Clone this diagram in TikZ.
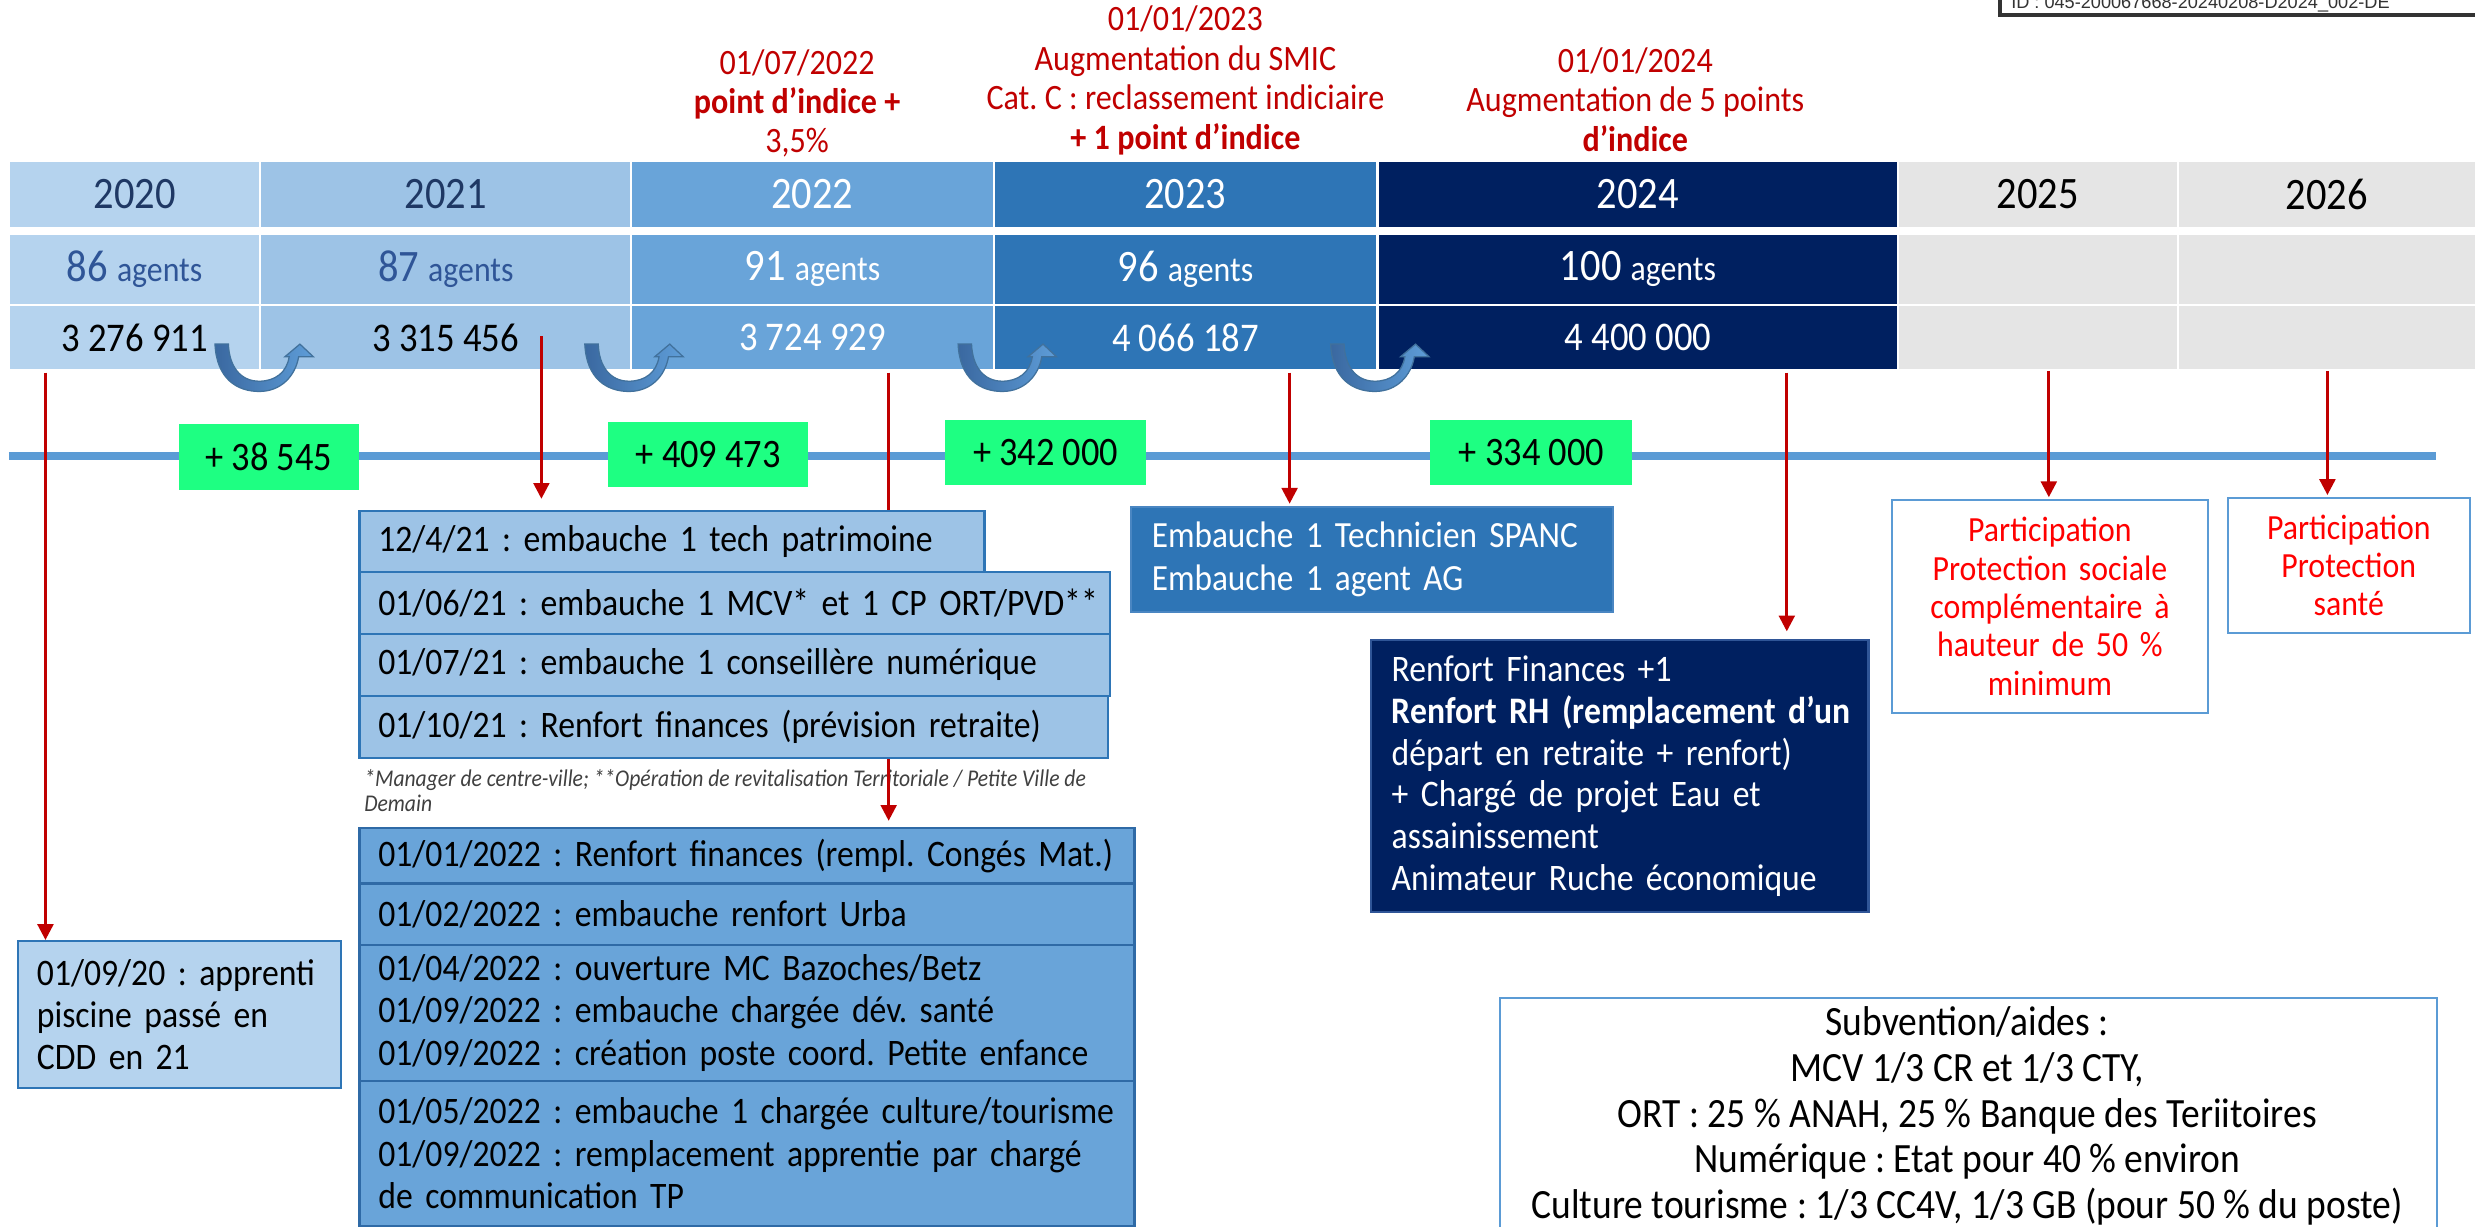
\documentclass[tikz,border=0pt]{standalone}
\usepackage{fontspec}
\setmainfont{Carlito}[FakeStretch=0.9]
\newfontfamily\idfont{Liberation Sans}
\usetikzlibrary{arrows.meta}
\newcommand\myfs[2]{\fontsize{#1}{#2}\selectfont}
\newcommand\Lx[1]{\mbox{#1}}
\definecolor{c20}{HTML}{B5D3EE}
\definecolor{c21}{HTML}{9DC3E6}
\definecolor{c22}{HTML}{69A4D9}
\definecolor{c23}{HTML}{2E75B6}
\definecolor{c24}{HTML}{002060}
\definecolor{c25}{HTML}{E5E5E5}
\definecolor{navytxt}{HTML}{1F3864}
\definecolor{agtxt}{HTML}{2F5597}
\definecolor{lineblue}{HTML}{5B9BD5}
\definecolor{gr}{HTML}{1EFF82}
\definecolor{hred}{HTML}{C00000}
\definecolor{pred}{HTML}{FF0000}
\definecolor{bord}{HTML}{2E75B6}
\definecolor{bord2}{HTML}{2F6AA6}
\definecolor{bord3}{HTML}{4A86C2}
\definecolor{uaL}{HTML}{3A68A0}
\definecolor{uaR}{HTML}{5E9DD8}
\definecolor{uaD}{HTML}{41719C}
\definecolor{idgray}{HTML}{333333}
\definecolor{fng}{HTML}{404040}
\pgfdeclarelayer{bg}
\pgfdeclarelayer{arr}
\pgfsetlayers{bg,arr,main}
\frenchspacing
\begin{document}
\begin{tikzpicture}[x=1pt,y=-1pt,
 cell/.style={anchor=north west, inner sep=0pt, outer sep=0pt},
 yr/.style={cell, minimum height=41.2pt, font=\myfs{28.5}{30}},
 ag/.style={cell, minimum height=43.4pt, font=\myfs{28.5}{30}},
 mt/.style={cell, minimum height=40pt, font=\myfs{25.8}{28}},
 gbox/.style={anchor=north west, fill=gr, inner sep=0pt, font=\myfs{25.6}{28}},
 hdr/.style={text=hred, align=center, inner sep=0pt, font=\myfs{22.6}{25}},
 lbox/.style={anchor=north west, draw=bord, line width=1.4pt, inner xsep=12pt, inner ysep=0pt, align=left, font=\myfs{23.7}{26.8}},
 pbox/.style={anchor=north west, draw=lineblue, line width=1.4pt, fill=white, inner xsep=10pt, inner ysep=0pt, align=center, text=pred, font=\myfs{22.4}{24.3}},
 redarr/.style={draw=hred, line width=1.8pt, -{Triangle[width=10pt,length=10pt]}},
 pics/uarrow/.style={code={
   \shadedraw[left color=uaL, right color=uaR, draw=uaD, line width=0.8pt]
   (0,0) .. controls (1,22) and (14,30) .. (28,30) .. controls (42,30) and (51,20) .. (53,8)
   -- (62.3,8) -- (53.8,0) -- (44.3,8) -- (47,8)
   .. controls (45.5,18) and (38,23.5) .. (28,23.5) .. controls (16,23.5) and (9,14) .. (8.5,0) -- cycle;
 }}
]
\useasboundingbox (0,0) rectangle (1568,777);
\clip (0,0) rectangle (1568,777);

\begin{pgfonlayer}{bg}
% row 1 : years
\node[yr, fill=c20, minimum width=158.3pt, text=navytxt] (y20) at (6.1,102.4) {2020};
\node[yr, fill=c21, minimum width=233.6pt, text=navytxt] (y21) at (165.6,102.4) {2021};
\node[yr, fill=c22, minimum width=228.6pt, text=white] (y22) at (400.4,102.4) {2022};
\node[yr, fill=c23, minimum width=241.4pt, text=white] (y23) at (630.3,102.4) {2023};
\node[yr, fill=c24, minimum width=328.2pt, text=white] (y24) at (873.6,102.4) {2024};
\node[yr, fill=c25, minimum width=176pt, text=black] (y25) at (1203,102.4) {2025};
\node[yr, fill=c25, minimum width=187.6pt, text=black] (y26) at (1380.4,102.4) {2026};
% row 2 : agents
\node[ag, fill=c20, minimum width=158.3pt, text=agtxt] (n20) at (6.1,148.9) {86 {\myfs{22.4}{24}agents}};
\node[ag, fill=c21, minimum width=233.6pt, text=agtxt] (n21) at (165.6,148.9) {87 {\myfs{22.4}{24}agents}};
\node[ag, fill=c22, minimum width=228.6pt, text=white] (n22) at (400.4,148.9) {91 {\myfs{22.4}{24}agents}};
\node[ag, fill=c23, minimum width=241.4pt, text=white] (n23) at (630.3,148.9) {96 {\myfs{22.4}{24}agents}};
\node[ag, fill=c24, minimum width=328.2pt, text=white] (n24) at (873.6,148.9) {100 {\myfs{22.4}{24}agents}};
\node[ag, fill=c25, minimum width=176pt] (n25) at (1203,148.9) {};
\node[ag, fill=c25, minimum width=187.6pt] (n26) at (1380.4,148.9) {};
% row 3 : amounts
\node[mt, fill=c20, minimum width=158.3pt, text=black] (m20) at (6.1,194) {3 276 911};
\node[mt, fill=c21, minimum width=233.6pt, text=black] (m21) at (165.6,194) {3 315 456};
\node[mt, fill=c22, minimum width=228.6pt, text=white] (m22) at (400.4,194) {3 724 929};
\node[mt, fill=c23, minimum width=241.4pt, text=white] (m23) at (630.3,194) {4 066 187};
\node[mt, fill=c24, minimum width=328.2pt, text=white] (m24) at (873.6,194) {4 400 000};
\node[mt, fill=c25, minimum width=176pt] (m25) at (1203,194) {};
\node[mt, fill=c25, minimum width=187.6pt] (m26) at (1380.4,194) {};
% timeline
\coordinate (tlA) at (5.6,289);
\coordinate (tlB) at (1543,289);
\draw[lineblue, line width=4.7pt] (tlA) -- (tlB);
% footnote
\node[anchor=north west, inner sep=0pt, align=left, text=fng, font=\itshape\myfs{15.2}{15.5}] (fn) at (230.6,487.5)
 {\Lx{*Manager de centre-ville; **Opération de revitalisation Territoriale / Petite Ville de}\\Demain};
\end{pgfonlayer}

% curved arrows
\pic (ua1) at (136.2,218) {uarrow};
\pic (ua2) at (370.5,218) {uarrow};
\pic (ua3) at (607,218) {uarrow};
\pic (ua4) at (843,218) {uarrow};

% differences
\node[gbox, minimum width=114pt, minimum height=41.5pt] (g1) at (113,268.5) {+ 38 545};
\node[gbox, minimum width=127pt, minimum height=41.5pt] (g2) at (385,267) {+ 409 473};
\node[gbox, minimum width=127.5pt, minimum height=41pt] (g3) at (598.5,266) {+ 342 000};
\node[gbox, minimum width=128pt, minimum height=41pt] (g4) at (906,266) {+ 334 000};

% headers
\node[hdr] (h22) at (505,65.5) {01/07/2022\\\textbf{point d’indice +}\\3,5\%};
\node[hdr] (h23) at (751,51) {01/01/2023\\Augmentation du SMIC\\Cat. C : reclassement indiciaire\\\textbf{+ 1 point d’indice}};
\node[hdr] (h24) at (1036,63) {01/01/2024\\Augmentation de 5 points\\\textbf{d’indice}};

% 2020 box
\node[lbox, fill=c20, text width=180.8pt, minimum height=93.1pt] (b20) at (10.7,595.5)
 {\Lx{01/09/20 : apprenti}\\\Lx{piscine passé en}\\\Lx{CDD en 21}};

% 2021 list
\node[lbox, fill=c21, text width=372pt, minimum height=38.5pt] (l21a) at (227,323) {\Lx{12/4/21 : embauche 1 tech patrimoine}};
\node[lbox, fill=c21, text width=451.5pt, minimum height=39.5pt] (l21b) at (227,361.5) {\Lx{01/06/21 : embauche 1 MCV* et 1 CP ORT/PVD**}};
\node[lbox, fill=c21, text width=451.5pt, minimum height=39pt] (l21c) at (227,401) {\Lx{01/07/21 : embauche 1 conseillère numérique}};
\node[lbox, fill=c21, text width=450pt, minimum height=39.4pt] (l21d) at (227,440) {\Lx{01/10/21 : Renfort finances (prévision retraite)}};

% 2022 list
\node[lbox, draw=bord2, fill=c22, text width=467pt, minimum height=35pt] (l22a) at (227,524) {\Lx{01/01/2022 : Renfort finances (rempl. Congés Mat.)}};
\node[lbox, draw=bord2, fill=c22, text width=467pt, minimum height=39pt] (l22b) at (227,559) {\Lx{01/02/2022 : embauche renfort Urba}};
\node[lbox, draw=bord2, fill=c22, text width=467pt, minimum height=86pt] (l22c) at (227,598)
 {\Lx{01/04/2022 : ouverture MC Bazoches/Betz}\\\Lx{01/09/2022 : embauche chargée dév. santé}\\\Lx{01/09/2022 : création poste coord. Petite enfance}};
\node[lbox, draw=bord2, fill=c22, text width=467pt, minimum height=92pt] (l22d) at (227,684)
 {\Lx{01/05/2022 : embauche 1 chargée culture/tourisme}\\\Lx{01/09/2022 : remplacement apprentie par chargé}\\\Lx{de communication TP}};

% 2023 box
\node[lbox, draw=bord3, fill=c23, text=white, inner xsep=13pt, text width=279pt, minimum height=66.2pt, font=\myfs{23.4}{26.7}] (spanc) at (716,320.6)
 {\Lx{Embauche 1 Technicien SPANC}\\\Lx{Embauche 1 agent AG}};

% 2024 box
\node[lbox, draw=agtxt, fill=c24, text=white, inner xsep=13pt, text width=289pt, minimum height=172pt, font=\myfs{23.7}{26.5}] (renf) at (868,405)
 {\Lx{Renfort Finances +1}\\\Lx{\textbf{Renfort RH (remplacement d’un}}\\\Lx{départ en retraite + renfort)}\\\Lx{+ Chargé de projet Eau et}\\\Lx{assainissement}\\\Lx{Animateur Ruche économique}};

% 2025 / 2026 boxes
\node[pbox, text width=180pt, minimum height=135pt] (ps) at (1198,316)
 {Participation\\Protection sociale\\complémentaire à\\hauteur de 50 \%\\minimum};
\node[pbox, text width=133.4pt, minimum height=85.8pt] (psa) at (1410.6,314.6)
 {Participation\\Protection\\santé};

% subventions
\node[anchor=north west, draw=lineblue, line width=1.4pt, fill=white, minimum width=593.4pt, minimum height=200pt, inner sep=0pt] (sub) at (949.6,631.4) {};
\node[align=center, inner sep=0pt, font=\myfs{26.4}{29}] (subt) at (1246.3,707)
 {Subvention/aides :\\MCV 1/3 CR et 1/3 CTY,\\ORT : 25 \% ANAH, 25 \% Banque des Teriitoires\\Numérique : Etat pour 40 \% environ\\Culture tourisme : 1/3 CC4V, 1/3 GB (pour 50 \% du poste)};

% ID stamp
\node[anchor=south west, draw=idgray, line width=2.1pt, fill=white, minimum width=400pt, minimum height=40pt, inner sep=0pt] (idbox) at (1266,10.6) {};
\node[anchor=base west, inner sep=0pt, text=idgray, font=\idfont\myfs{11.5}{13}] (idtxt) at (1274,5.3) {ID : 045-200067668-20240208-D2024\_002-DE};

% red arrows
\begin{pgfonlayer}{arr}
\coordinate (s20) at (28.8,236);
\coordinate (s21) at (343,213);
\coordinate (s22) at (563,236);
\coordinate (s23) at (817,236);
\coordinate (s24) at (1132,236);
\coordinate (s25) at (1298,235);
\coordinate (s26) at (1474.5,235);
\draw[redarr] (s20) -- (s20 |- b20.north);
\draw[redarr, shorten >=7pt] (s21) -- (s21 |- l21a.north);
\draw[redarr, shorten >=4pt] (s22) -- (s22 |- l22a.north);
\draw[redarr, shorten >=1.5pt] (s23) -- (s23 |- spanc.north);
\draw[redarr, shorten >=5pt] (s24) -- (s24 |- renf.north);
\draw[redarr, shorten >=1pt] (s25) -- (s25 |- ps.north);
\draw[redarr, shorten >=1pt] (s26) -- (s26 |- psa.north);
\end{pgfonlayer}
\end{tikzpicture}
\end{document}
